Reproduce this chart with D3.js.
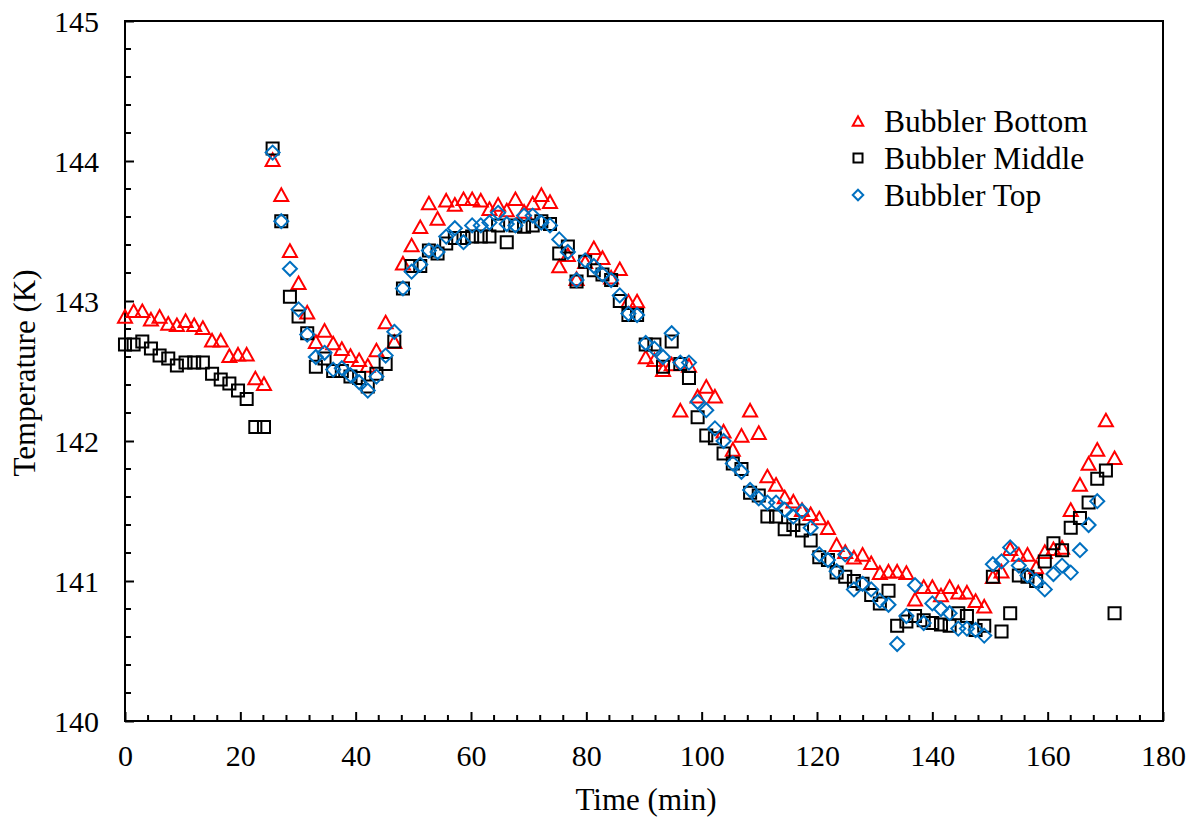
<!DOCTYPE html>
<html>
<head>
<meta charset="utf-8">
<script src="https://cdn.jsdelivr.net/npm/d3@7"></script>
<style>
  html, body { margin: 0; padding: 0; background: #fff; }
  svg { display: block; }
  text { font-family: "Liberation Serif", "Times New Roman", serif; fill: #000; }
</style>
</head>
<body>
<svg id="chart" width="1195" height="824"></svg>
<script>
// Sampling times (min)
const timeMin = [
  0, 1.5, 3.0, 4.5, 6.0, 7.5, 9.0, 10.5, 12.0, 13.5,
  15.1, 16.6, 18.1, 19.6, 21.1, 22.6, 24.1, 25.6, 27.1, 28.6,
  30.1, 31.6, 33.1, 34.6, 36.1, 37.6, 39.1, 40.6, 42.1, 43.6,
  45.2, 46.7, 48.2, 49.7, 51.2, 52.7, 54.2, 55.7, 57.2, 58.7,
  60.2, 61.7, 63.2, 64.7, 66.2, 67.7, 69.2, 70.7, 72.2, 73.7,
  75.3, 76.8, 78.3, 79.8, 81.3, 82.8, 84.3, 85.8, 87.3, 88.8,
  90.3, 91.8, 93.3, 94.8, 96.3, 97.8, 99.3, 100.8, 102.3, 103.8,
  105.4, 106.9, 108.4, 109.9, 111.4, 112.9, 114.4, 115.9, 117.4, 118.9,
  120.4, 121.9, 123.4, 124.9, 126.4, 127.9, 129.4, 130.9, 132.4, 133.9,
  135.5, 137.0, 138.5, 140.0, 141.5, 143.0, 144.5, 146.0, 147.5, 149.0,
  150.5, 152.0, 153.5, 155.0, 156.5, 158.0, 159.5, 161.0, 162.5, 164.0,
  165.6, 167.1, 168.6, 170.1, 171.6
];

// Temperatures (K)
const bubblerBottom = [
  142.89, 142.93, 142.93, 142.87, 142.89, 142.84, 142.83, 142.86, 142.83, 142.81,
  142.72, 142.72, 142.61, 142.62, 142.62, 142.45, 142.41, 144.01, 143.76, 143.36,
  143.13, 142.92, 142.71, 142.79, 142.70, 142.66, 142.61, 142.58, 142.54, 142.65,
  142.85, 142.71, 143.27, 143.40, 143.53, 143.70, 143.59, 143.72, 143.69, 143.73,
  143.73, 143.72, 143.66, 143.69, 143.65, 143.73, 143.64, 143.70, 143.76, 143.71,
  143.25, 143.33, 143.16, 143.28, 143.38, 143.31, 143.17, 143.23, 143.00, 143.00,
  142.60, 142.58, 142.51, 142.55, 142.22, 142.54, 142.32, 142.39, 142.32, 142.07,
  141.94, 142.04, 142.22, 142.06, 141.75, 141.69, 141.60, 141.57, 141.51, 141.48,
  141.45, 141.38, 141.26, 141.21, 141.17, 141.19, 141.13, 141.06, 141.07, 141.07,
  141.06, 140.87, 140.96, 140.96, 140.90, 140.96, 140.92, 140.92, 140.86, 140.82,
  141.03, 141.07, 141.23, 141.19, 141.19, 141.10, 141.21, 141.23, 141.24, 141.51,
  141.69, 141.84, 141.94, 142.15, 141.88
];

const bubblerMiddle = [
  142.69, 142.69, 142.71, 142.66, 142.61, 142.59, 142.54, 142.56, 142.56, 142.56,
  142.48, 142.44, 142.41, 142.36, 142.30, 142.10, 142.10, 144.09, 143.57, 143.03,
  142.89, 142.77, 142.53, 142.59, 142.50, 142.50, 142.46, 142.45, 142.39, 142.48,
  142.55, 142.71, 143.09, 143.25, 143.25, 143.36, 143.34, 143.41, 143.45, 143.45,
  143.46, 143.46, 143.46, 143.54, 143.42, 143.54, 143.53, 143.54, 143.57, 143.55,
  143.34, 143.39, 143.14, 143.28, 143.22, 143.19, 143.15, 143.00, 142.90, 142.90,
  142.69, 142.69, 142.53, 142.71, 142.55, 142.45, 142.17, 142.04, 142.02, 141.91,
  141.84, 141.80, 141.63, 141.61, 141.46, 141.46, 141.37, 141.40, 141.36, 141.29,
  141.17, 141.15, 141.06, 141.03, 141.00, 140.98, 140.90, 140.84, 140.93, 140.68,
  140.71, 140.75, 140.72, 140.70, 140.69, 140.68, 140.77, 140.75, 140.65, 140.68,
  141.03, 140.64, 140.77, 141.04, 141.03, 141.00, 141.14, 141.27, 141.22, 141.38,
  141.45, 141.56, 141.73, 141.79, 140.77
];

const bubblerTop = [
  null, null, null, null, null, null, null, null, null, null,
  null, null, null, null, null, null, null, 144.06, 143.57, 143.23,
  142.94, 142.76, 142.60, 142.63, 142.51, 142.52, 142.47, 142.42, 142.36, 142.46,
  142.61, 142.78, 143.09, 143.21, 143.26, 143.36, 143.35, 143.46, 143.52, 143.42,
  143.54, 143.54, 143.56, 143.63, 143.55, 143.54, 143.61, 143.61, 143.56, 143.54,
  143.44, 143.35, 143.15, 143.29, 143.25, 143.19, 143.15, 143.04, 142.91, 142.90,
  142.70, 142.66, 142.60, 142.77, 142.56, 142.56, 142.28, 142.22, 142.09, 142.00,
  141.84, 141.78, 141.65, 141.59, 141.56, 141.56, 141.51, 141.46, 141.50, 141.38,
  141.19, 141.15, 141.07, 141.19, 140.94, 140.98, 140.94, 140.86, 140.83, 140.55,
  140.75, 140.97, 140.70, 140.84, 140.80, 140.77, 140.66, 140.66, 140.65, 140.61,
  141.12, 141.14, 141.24, 141.11, 141.04, 141.00, 140.94, 141.05, 141.11, 141.06,
  141.22, 141.40, 141.57, null, null
];

const xTicks = [0, 20, 40, 60, 80, 100, 120, 140, 160, 180];
const yTicks = [140, 141, 142, 143, 144, 145];

const seriesList = [
  { name: "Bubbler Bottom", values: bubblerBottom, shape: "triangle", color: "#FF0000" },
  { name: "Bubbler Middle", values: bubblerMiddle, shape: "square", color: "#000000" },
  { name: "Bubbler Top", values: bubblerTop, shape: "diamond", color: "#0070C0" }
];

const svg = d3.select("#chart");
const plot = { left: 125, right: 1163, top: 21, bottom: 721 };

const x = d3.scaleLinear().domain([0, 180]).range([plot.left, plot.right]);
const y = d3.scaleLinear().domain([140, 145]).range([plot.bottom, plot.top]);

// Marker outlines centred on the data point; s is the nominal marker size
function markerPath(shape, s) {
  if (shape === "triangle") {
    const w = s * 1.0, h = s * 0.9;
    return `M0,${-h / 2}L${w / 2},${h / 2}L${-w / 2},${h / 2}Z`;
  }
  if (shape === "square") {
    const h = s * 0.86 / 2;
    return `M${-h},${-h}H${h}V${h}H${-h}Z`;
  }
  const r = s * 0.5;
  return `M0,${-r}L${r},0L0,${r}L${-r},0Z`;
}

const tickFont = 30;
const titleFont = 31;
const legendFont = 31.5;

const minorX = d3.range(0, 181, 4).filter(v => v % 20 !== 0);
const minorY = d3.range(0, 26).map(i => 140 + i * 0.2).filter((v, i) => i % 5 !== 0);

const gAxes = svg.append("g");

// x axis, ticks pointing into the plot
const xAxis = d3.axisBottom(x).tickValues(xTicks).tickSize(-9).tickPadding(24).tickFormat(d3.format("d"));
const gx = gAxes.append("g").attr("transform", `translate(0,${plot.bottom})`).call(xAxis);
gx.append("g").selectAll("line").data(minorX).join("line")
  .attr("x1", d => x(d)).attr("x2", d => x(d)).attr("y1", 0).attr("y2", -6);

// y axis, ticks pointing into the plot
const yAxis = d3.axisLeft(y).tickValues(yTicks).tickSize(-9).tickPadding(26).tickFormat(d3.format("d"));
const gy = gAxes.append("g").attr("transform", `translate(${plot.left},0)`).call(yAxis);
gy.append("g").selectAll("line").data(minorY).join("line")
  .attr("y1", d => y(d)).attr("y2", d => y(d)).attr("x1", 0).attr("x2", 6);

gAxes.selectAll(".domain").remove();
gAxes.selectAll("line").attr("stroke", "#000").attr("stroke-width", 2);
gAxes.selectAll(".tick text")
  .style("font-family", '"Liberation Serif", serif')
  .style("font-size", tickFont + "px")
  .attr("fill", "#000");
gy.selectAll(".tick text").attr("dy", "0.34em");

// Plot frame
svg.append("rect")
  .attr("x", plot.left).attr("y", plot.top)
  .attr("width", plot.right - plot.left).attr("height", plot.bottom - plot.top)
  .attr("fill", "none").attr("stroke", "#000").attr("stroke-width", 2);

// Data markers, one group per series
const gData = svg.append("g");
seriesList.forEach(s => {
  const pts = timeMin.map((t, i) => ({ t, v: s.values[i] })).filter(p => p.v != null);
  gData.append("g").selectAll("path").data(pts).join("path")
    .attr("transform", p => `translate(${x(p.t)},${y(p.v)})`)
    .attr("d", markerPath(s.shape, 14))
    .attr("fill", "none")
    .attr("stroke", s.color)
    .attr("stroke-width", 2);
});

// Axis titles
svg.append("text")
  .attr("x", (plot.left + plot.right) / 2 + 2).attr("y", 810)
  .attr("text-anchor", "middle")
  .style("font-size", titleFont + "px")
  .text("Time (min)");

svg.append("text")
  .attr("transform", `translate(35,373) rotate(-90)`)
  .attr("text-anchor", "middle")
  .style("font-size", titleFont + "px")
  .text("Temperature (K)");

// Legend
const legend = svg.append("g").attr("transform", "translate(858,121)");
seriesList.forEach((s, i) => {
  const row = legend.append("g").attr("transform", `translate(0,${i * 37})`);
  row.append("path")
    .attr("d", markerPath(s.shape, 10.5))
    .attr("fill", "none").attr("stroke", s.color).attr("stroke-width", 2);
  row.append("text")
    .attr("x", 26).attr("y", 10.5)
    .style("font-size", legendFont + "px")
    .text(s.name);
});
</script>
</body>
</html>
